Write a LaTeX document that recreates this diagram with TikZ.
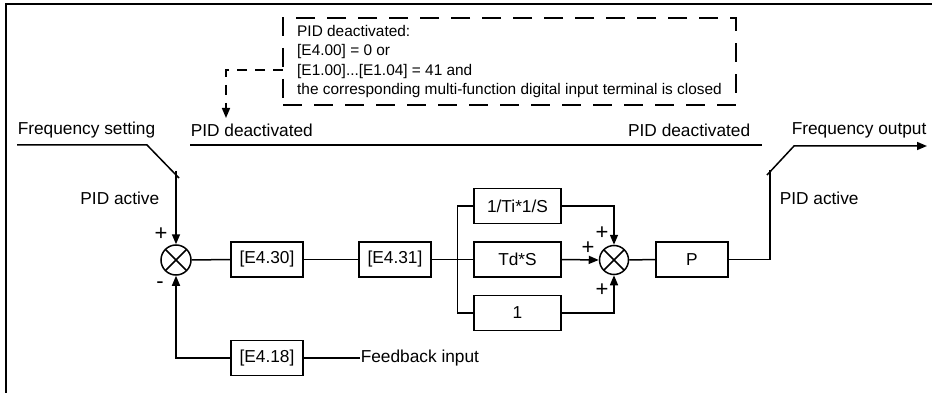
\documentclass[tikz,border=0pt]{standalone}
\usepackage{fontspec}
\setmainfont{Liberation Sans}
\usepackage{tikz}
\usetikzlibrary{arrows.meta,calc}

\begin{document}
\begin{tikzpicture}[x=1pt, y=-1pt, >={Triangle[length=10pt,width=8pt]},
  line width=1.5pt, font=\fontsize{17.3}{20}\selectfont,
  block/.style={draw, minimum width=72pt, minimum height=35pt, inner sep=0pt},
  sumnode/.style={circle, draw, minimum size=30pt, inner sep=0pt,
    path picture={\draw (path picture bounding box.north west) -- (path picture bounding box.south east)
      (path picture bounding box.north east) -- (path picture bounding box.south west);}},
  sign/.style={inner sep=0pt, font=\fontsize{22}{24}\selectfont}]
  \useasboundingbox (0,0) rectangle (932,393);

  % moldura
  \draw[line width=1.8pt] (932,4) -- (6,4) -- (6,393);

  % condicao de desativacao
  \node[draw, dashed, line width=2pt, dash pattern=on 19pt off 12pt,
        minimum width=453pt, minimum height=87pt, inner xsep=10pt,
        align=left, font=\fontsize{15.4}{19.3}\selectfont] (cond) at (509.5,61.5)
    {PID deactivated:\\ {[E4.00]} = 0 or\\ {[E1.00]...[E1.04]} = 41 and\\
     the corresponding multi-function digital input terminal is closed};
  \coordinate (tap) at (283,70);
  \coordinate (deact) at (226,118);
  \draw[->, line width=1.5pt, dash pattern=on 10pt off 8pt] (tap) -| (deact);

  % linhas superiores
  \node[anchor=west, inner sep=0pt] (fset) at (17,130) {Frequency setting};
  \node[anchor=west, inner sep=0pt] (deacl) at (190,130) {PID deactivated};
  \node[anchor=east, inner sep=0pt] (deacr) at (751,130) {PID deactivated};
  \node[anchor=west, inner sep=0pt] (fout) at (791,130) {Frequency output};
  \coordinate (sw1a) at (17,145);
  \coordinate (sw1b) at (147,145);
  \coordinate (sw1c) at (179,178);
  \draw (sw1a) -- (sw1b) -- (sw1c);
  \draw (190,145) -- (762,145);
  \coordinate (sw2c) at (767,175);
  \coordinate (sw2b) at (794,146);
  \coordinate (outend) at (927,146);
  \draw[->] (sw2c) -- (sw2b) -- (outend);

  % blocos
  \node[sumnode] (sum1) at (176,260) {};
  \node[block] (e430) at (267,259.5) {[E4.30]};
  \node[block] (e431) at (395,259.5) {[E4.31]};
  \node[block, minimum width=87pt] (ti) at (517.5,206) {1/Ti*1/S};
  \node[block, minimum width=87pt] (td) at (517.5,259.5) {Td*S};
  \node[block, minimum width=87pt] (one) at (517.5,313) {1};
  \node[sumnode, minimum size=29pt] (sum2) at (614,260) {};
  \node[block] (pgain) at (692,259.5) {P};
  \node[block] (e418) at (267,358) {[E4.18]};
  \node[anchor=west, inner sep=0pt] (fb) at (360,358) {Feedback input};

  % ligacoes
  \coordinate (sw1d) at (176,171);
  \coordinate (sw2a) at (770,170);
  \draw[->] (sw1d) -- (sum1.north);
  \draw[->] (e418.west) -| (sum1.south);
  \draw (e418.east) -- (fb.west);
  \draw (sum1.east) -- (e430.west);
  \draw (e430.east) -- (e431.west);
  \draw (e431.east) -- (td.west);
  \draw (ti.west) -- ++(-16,0) |- (one.west);
  \draw[->] (ti.east) -| (sum2.north);
  \draw[->] (td.east) -- (sum2.west);
  \draw[->] (one.east) -| (sum2.south);
  \draw (sum2.east) -- (pgain.west);
  \draw (pgain.east) -| (sw2a);

  % rotulos
  \node[anchor=east, inner sep=0pt] (act1) at (160,198) {PID active};
  \node[anchor=west, inner sep=0pt] (act2) at (779,198) {PID active};
  \node[sign] (p1) at (161,234) {+};
  \node[sign] (m1) at (160,285) {-};
  \node[sign] (p2) at (602,233) {+};
  \node[sign] (p3) at (588,248) {+};
  \node[sign] (p4) at (602,290) {+};
\end{tikzpicture}
\end{document}
